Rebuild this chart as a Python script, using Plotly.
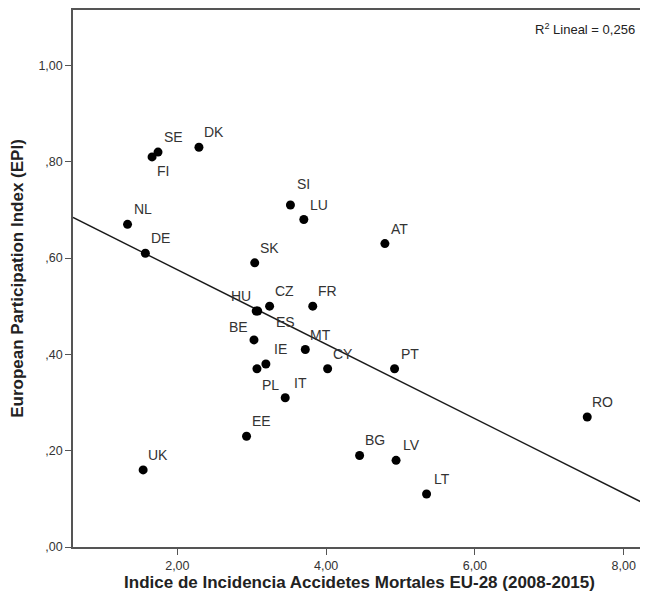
import numpy as np
import plotly.graph_objects as go

countries = ["SE", "FI", "DK", "NL", "DE", "SI", "LU", "SK", "HU", "CZ", "FR", "ES",
             "BE", "MT", "IE", "PL", "CY", "PT", "IT", "EE", "UK", "BG", "LV", "RO",
             "AT", "LT"]
accidents = [1.74, 1.66, 2.29, 1.33, 1.57, 3.52, 3.70, 3.04, 3.06, 3.24, 3.82, 3.08,
             3.03, 3.72, 3.19, 3.07, 4.02, 4.92, 3.45, 2.93, 1.54, 4.45, 4.94, 7.51,
             4.79, 5.35]
epi = [0.82, 0.81, 0.83, 0.67, 0.61, 0.71, 0.68, 0.59, 0.49, 0.50, 0.50, 0.49,
       0.43, 0.41, 0.38, 0.37, 0.37, 0.37, 0.31, 0.23, 0.16, 0.19, 0.18, 0.27,
       0.63, 0.11]

x_tickvals = [2, 4, 6, 8]
x_ticktext = ["2,00", "4,00", "6,00", "8,00"]
y_tickvals = [0, 0.2, 0.4, 0.6, 0.8, 1.0]
y_ticktext = [",00", ",20", ",40", ",60", ",80", "1,00"]

x_range = [0.597, 8.30]
y_range = [0, 1.115]

# label offsets (pixels) - styling
default_shift = (15, 15)
special_shift = {"FI": (11, -14), "HU": (-15, 15), "BE": (-15, 13),
                 "PL": (14, -16), "ES": (28, -11), "SI": (13, 21)}

xa = np.array(accidents)
ya = np.array(epi)
slope, intercept = np.polyfit(xa, ya, 1)

fig = go.Figure()
fig.add_trace(go.Scatter(
    x=x_range, y=[intercept + slope * v for v in x_range],
    mode="lines", line=dict(color="#1a1a1a", width=1.4), hoverinfo="skip",
    showlegend=False))
fig.add_trace(go.Scatter(
    x=accidents, y=epi, mode="markers",
    marker=dict(color="black", size=9), showlegend=False))

font_main = "Liberation Sans, Arial, sans-serif"
for c, xv, yv in zip(countries, accidents, epi):
    dx, dy = special_shift.get(c, default_shift)
    fig.add_annotation(x=xv, y=yv, text=c, showarrow=False, xshift=dx, yshift=dy,
                       font=dict(family=font_main, size=14, color="#333333"))

fig.add_annotation(xref="paper", yref="paper", x=0.985, y=0.965, xanchor="right",
                   yanchor="middle", showarrow=False,
                   text="R<sup>2</sup> Lineal = 0,256",
                   font=dict(family=font_main, size=13, color="#222222"))

fig.update_layout(
    width=640, height=594,
    margin=dict(l=65, r=0, t=2, b=55),
    paper_bgcolor="white", plot_bgcolor="white",
    font=dict(family=font_main, color="#222222"),
)
fig.update_xaxes(range=x_range, tickvals=x_tickvals, ticktext=x_ticktext,
                 showgrid=False, zeroline=False, showline=True, linecolor="#555555",
                 linewidth=1.5, mirror=True, ticks="outside", ticklen=6,
                 tickcolor="#555555", tickfont=dict(size=12.5, color="#333333"),
                 title=dict(text="<b>Indice de Incidencia Accidetes Mortales EU-28 (2008-2015)</b>",
                            font=dict(size=17, color="#222222"), standoff=0))
fig.update_yaxes(range=y_range, tickvals=y_tickvals, ticktext=y_ticktext,
                 showgrid=False, zeroline=False, showline=True, linecolor="#555555",
                 linewidth=1.5, mirror=True, ticks="outside", ticklen=6,
                 tickcolor="#555555", tickfont=dict(size=12.5, color="#333333"),
                 title=dict(text="<b>European Participation Index (EPI)</b>",
                            font=dict(size=17, color="#222222"), standoff=10))

fig.write_html("out.html")
